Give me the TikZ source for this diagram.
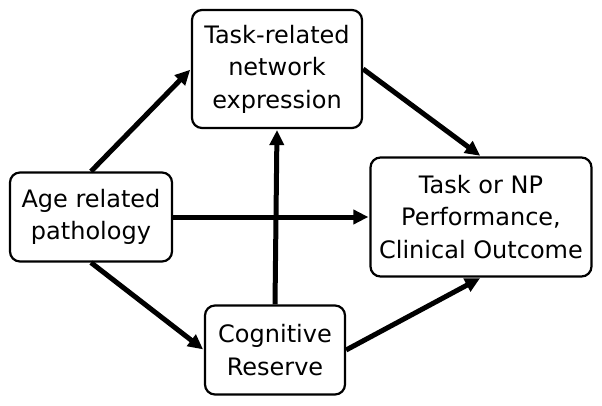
\documentclass[tikz,border=0pt]{standalone}
\usepackage{fontspec}
\setmainfont{DejaVu Sans}
\usetikzlibrary{arrows.meta}
\begin{document}
\begin{tikzpicture}[x=1pt,y=-1pt,
  box/.style={draw,line width=2.2pt,rounded corners=10pt,align=center,inner sep=0pt,
    font=\fontsize{24}{32.5}\selectfont},
  arr/.style={line width=5pt,-{Triangle[length=15pt,width=14pt]},shorten >=1pt}]
\useasboundingbox (0,0) rectangle (602,406);
\node[box,minimum width=170pt,minimum height=118pt] (task) at (277,69) {Task-related\\network\\expression};
\node[box,minimum width=162pt,minimum height=89pt] (age) at (91,217) {Age related\\pathology};
\node[box,minimum width=221pt,minimum height=119pt] (np) at (481,217) {Task or NP\\Performance,\\Clinical Outcome};
\node[box,minimum width=140pt,minimum height=89pt] (cog) at (275,350) {Cognitive\\Reserve};
\draw[arr] (age.north) -- (task.west);
\draw[arr] (task.east) -- (np.north);
\draw[arr] (age.east) -- (np.west);
\draw[arr] (cog.north) -- (task.south);
\draw[arr] (age.south) -- (cog.west);
\draw[arr] (cog.east) -- (np.south);
\end{tikzpicture}
\end{document}
